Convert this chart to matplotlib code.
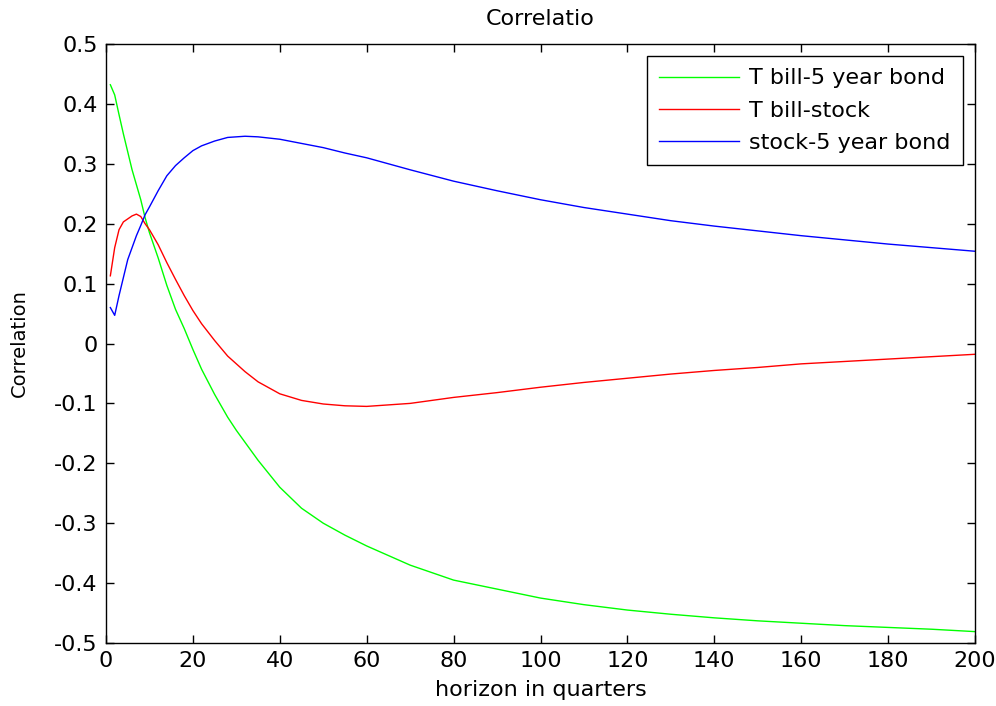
import numpy as np
import matplotlib
matplotlib.use("Agg")
import matplotlib.pyplot as plt

plt.rcParams['font.family'] = ['DejaVu Sans']
plt.rcParams['axes.unicode_minus'] = False

# horizon (quarters) and correlations
horizon = [1, 2, 3, 4, 5, 6, 7, 8, 9, 10, 12, 14, 16, 18, 20, 22, 25, 28, 30, 32,
           35, 40, 45, 50, 55, 60, 70, 80, 90, 100, 110, 120, 130, 140, 150, 160,
           170, 180, 190, 200]

tbill_bond = [0.432, 0.415, 0.382, 0.35, 0.32, 0.29, 0.265, 0.24, 0.21, 0.185,
              0.143, 0.097, 0.057, 0.025, -0.01, -0.043, -0.085, -0.123, -0.145,
              -0.165, -0.195, -0.24, -0.275, -0.30, -0.32, -0.338, -0.37, -0.395,
              -0.41, -0.425, -0.436, -0.445, -0.452, -0.458, -0.463, -0.467,
              -0.471, -0.474, -0.477, -0.481]

tbill_stock = [0.113, 0.16, 0.19, 0.203, 0.208, 0.213, 0.216, 0.212, 0.2, 0.19,
               0.165, 0.135, 0.107, 0.08, 0.055, 0.033, 0.005, -0.021, -0.034,
               -0.047, -0.064, -0.084, -0.095, -0.101, -0.104, -0.105, -0.1,
               -0.09, -0.082, -0.073, -0.065, -0.058, -0.051, -0.045, -0.04,
               -0.034, -0.03, -0.026, -0.022, -0.018]

stock_bond = [0.06, 0.047, 0.08, 0.11, 0.14, 0.16, 0.18, 0.197, 0.215, 0.228,
              0.255, 0.28, 0.297, 0.31, 0.322, 0.33, 0.338, 0.344, 0.345, 0.346,
              0.345, 0.341, 0.334, 0.327, 0.318, 0.31, 0.29, 0.271, 0.255, 0.24,
              0.227, 0.216, 0.205, 0.196, 0.188, 0.18, 0.173, 0.166, 0.16, 0.154]

fig = plt.figure(figsize=(9.96, 7.06), dpi=100)
ax = fig.add_axes([106 / 996, 1 - 643 / 706, (975 - 106) / 996, (643 - 44) / 706])

ax.plot(horizon, tbill_bond, color=(0, 1, 0), lw=1.0, label='T bill-5 year bond')
ax.plot(horizon, tbill_stock, color=(1, 0, 0), lw=1.0, label='T bill-stock')
ax.plot(horizon, stock_bond, color=(0, 0, 1), lw=1.0, label='stock-5 year bond')

ax.set_xlim(0, 200)
ax.set_ylim(-0.5, 0.5)
ax.set_xticks(np.arange(0, 201, 20))
yt = np.round(np.arange(-0.5, 0.51, 0.1), 1)
ax.set_yticks(yt)
ax.set_yticklabels(['0' if v == 0 else f'{v:g}' for v in yt])
ax.tick_params(direction='in', top=True, right=True, length=6, width=1,
               labelsize=16, pad=6)
for s in ax.spines.values():
    s.set_linewidth(1.0)

ax.set_title('Correlatio', fontsize=16, pad=14)
ax.set_xlabel('horizon in quarters', fontsize=16, labelpad=6)
ax.set_ylabel('Correlation', fontsize=14, labelpad=18)

leg = ax.legend(loc='upper right', fontsize=16, fancybox=False, framealpha=1,
                edgecolor='black', borderaxespad=0.55, handlelength=3.6,
                handletextpad=0.45, labelspacing=0.55, borderpad=0.55)
leg.get_frame().set_linewidth(1.0)

fig.savefig('out.png', dpi=100)
